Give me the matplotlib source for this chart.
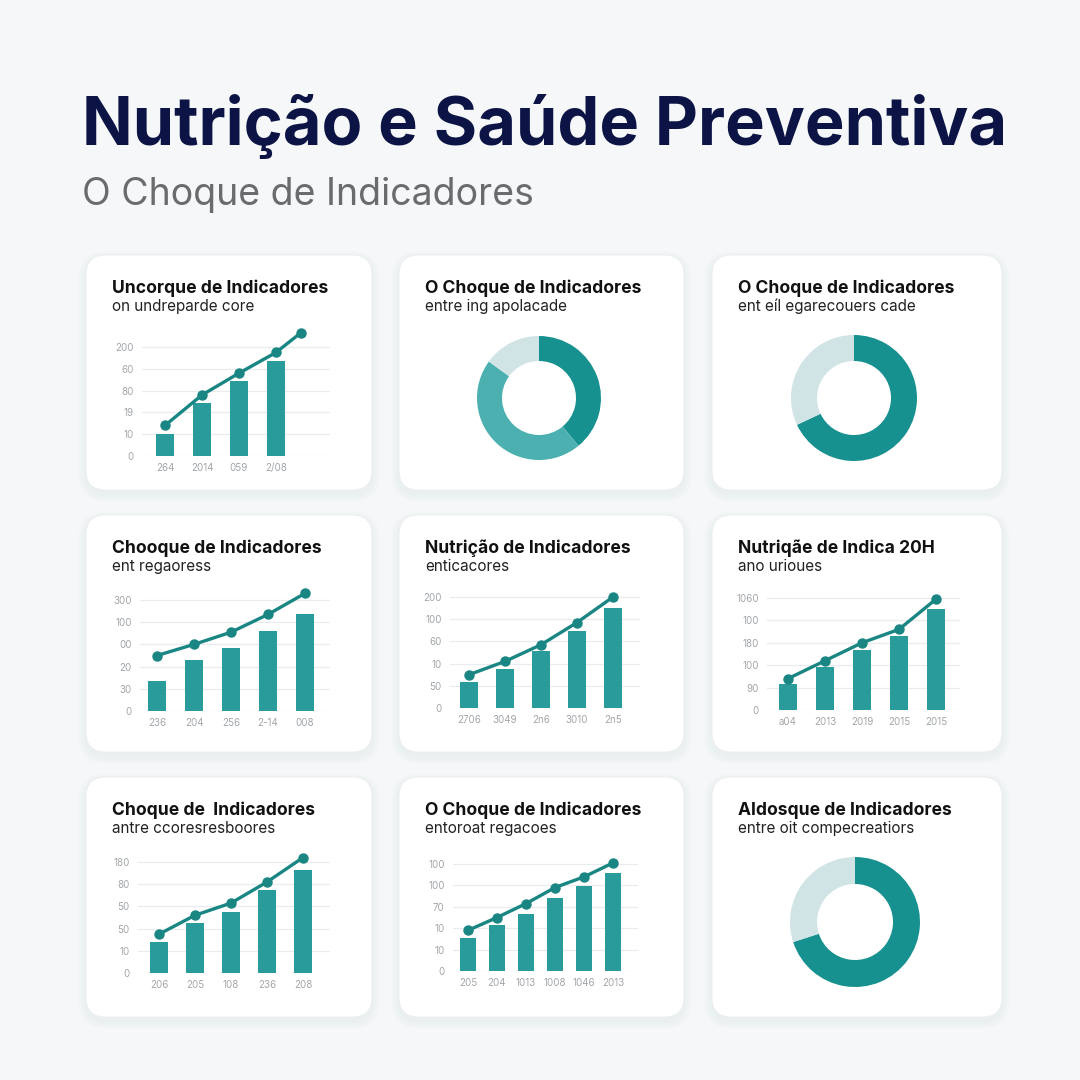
import matplotlib
matplotlib.use("Agg")
import matplotlib.pyplot as plt
from matplotlib.patches import FancyBboxPatch

# ---- data -------------------------------------------------------------
main_title = "Nutrição e Saúde Preventiva"
main_subtitle = "O Choque de Indicadores"

card_titles = [
    "Uncorque de Indicadores", "O Choque de Indicadores", "O Choque de Indicadores",
    "Chooque de Indicadores", "Nutrição de Indicadores", "Nutriqãe de Indica 20H",
    "Choque de  Indicadores", "O Choque de Indicadores", "Aldosque de Indicadores",
]
card_subtitles = [
    "on undreparde core", "entre ing apolacade", "ent eíl egarecouers cade",
    "ent regaoress", "enticacores", "ano urioues",
    "antre ccoresresboores", "entoroat regacoes", "entre oit compecreatiors",
]

# bar panels (value units: one gridline = 20)
bars_1 = [20, 49, 69, 87]
line_1 = [28, 56, 76, 95, 113]
line_x_1 = [0, 1, 2, 3, 3.67]
yticks_1 = ["0", "10", "19", "80", "60", "200"]
xticks_1 = ["264", "2014", "059", "2/08"]

bars_4 = [27, 46, 57, 72, 87]
line_4 = [50, 60, 71, 87, 106]
yticks_4 = ["0", "30", "20", "00", "100", "300"]
xticks_4 = ["236", "204", "256", "2-14", "008"]

bars_5 = [23, 35, 51, 69, 90]
line_5 = [30, 42, 57, 77, 100]
yticks_5 = ["0", "50", "10", "60", "100", "200"]
xticks_5 = ["2706", "3049", "2n6", "3010", "2n5"]

bars_6 = [23, 38, 54, 66, 90]
line_6 = [28, 44, 60, 72, 99]
yticks_6 = ["0", "90", "100", "180", "100", "1060"]
xticks_6 = ["a04", "2013", "2019", "2015", "2015"]

bars_7 = [28, 45, 55, 75, 93]
line_7 = [35, 52, 63, 82, 104]
yticks_7 = ["0", "10", "50", "50", "80", "180"]
xticks_7 = ["206", "205", "108", "236", "208"]

bars_8 = [31, 43, 53, 68, 79, 92]
line_8 = [38, 50, 63, 78, 88, 101]
yticks_8 = ["0", "10", "10", "70", "100", "100"]
xticks_8 = ["205", "204", "1013", "1008", "1046", "2013"]

# donut panels (percent)
donut_2 = [39, 46, 15]
donut_3 = [68, 32]
donut_9 = [70, 30]

# ---- style ------------------------------------------------------------
W = H = 1080
BG = "#f6f7f8"
NAVY = "#0c1445"
TEAL_BAR = "#289b9a"
TEAL_LINE = "#1a8684"
TEAL_DARK = "#17918f"
TEAL_MID = "#4cb0b1"
TEAL_LIGHT = "#d0e3e5"
GRID = "#e9ecee"
TICK = "#a2a6aa"
FONT = ["Inter", "DejaVu Sans"]

plt.rcParams["font.family"] = FONT

fig = plt.figure(figsize=(W / 100, H / 100), dpi=100, facecolor=BG)
bg = fig.add_axes([0, 0, 1, 1])
bg.set_xlim(0, W)
bg.set_ylim(H, 0)
bg.axis("off")


def rect(x0, y0, x1, y1):
    return [x0 / W, 1 - y1 / H, (x1 - x0) / W, (y1 - y0) / H]


bg.text(82, 145, main_title, fontsize=48, fontweight="bold", color=NAVY, va="baseline")
bg.text(82, 205, main_subtitle, fontsize=27, color="#6a6b6d", va="baseline")

col_x = [(86, 372), (399, 684), (712, 1002)]
row_y = [(255, 490), (515, 752), (777, 1017)]

for i in range(9):
    (x0, x1), (y0, y1) = col_x[i % 3], row_y[i // 3]
    for k in range(8, 0, -1):
        bg.add_patch(FancyBboxPatch((x0 - k, y0 - k + 4), x1 - x0 + 2 * k, y1 - y0 + 2 * k,
                                    boxstyle="round,pad=0,rounding_size=%d" % (20 + k),
                                    fc="#9aa4ad", ec="none", alpha=0.012))
    bg.add_patch(FancyBboxPatch((x0, y0), x1 - x0, y1 - y0,
                                boxstyle="round,pad=0,rounding_size=20",
                                fc="white", ec="#eceef0", lw=0.6))
    bg.text(x0 + 26, y0 + 38, card_titles[i], fontsize=12.6, fontweight="bold",
            color="#111111", va="baseline")
    bg.text(x0 + 26, y0 + 56, card_subtitles[i], fontsize=11, color="#222222", va="baseline")


def bar_panel(left, right, zero, step, c0, spacing, bars, line, yticks, xticks,
              line_x=None, width=0.48):
    ax = fig.add_axes(rect(left, zero - 6 * step, right, zero))
    ax.set_xlim((left - c0) / spacing, (right - c0) / spacing)
    ax.set_ylim(0, 120)
    xs = list(range(len(bars)))
    ax.bar(xs, bars, width=width, color=TEAL_BAR, zorder=2)
    lx = line_x if line_x is not None else list(range(len(line)))
    ax.plot(lx, line, color=TEAL_LINE, lw=2.4, marker="o", ms=6.5, zorder=3, clip_on=False)
    ax.set_yticks([0, 20, 40, 60, 80, 100], yticks)
    ax.set_xticks(xs, xticks)
    ax.grid(axis="y", color=GRID, lw=0.9, zorder=0)
    ax.tick_params(length=0, labelsize=7, labelcolor=TICK, pad=6)
    ax.tick_params(axis="x", pad=5)
    for s in ax.spines.values():
        s.set_visible(False)
    ax.patch.set_alpha(0)


def donut_panel(cx, cy, r, inner, values, colors):
    ax = fig.add_axes(rect(cx - r, cy - r, cx + r, cy + r))
    ax.pie(values, colors=colors, startangle=90, counterclock=False,
           wedgeprops=dict(width=1 - inner / r, edgecolor="none"))
    ax.set_xlim(-1, 1)
    ax.set_ylim(-1, 1)
    ax.set_aspect("equal")


bar_panel(142, 330, 456, 21.8, 165, 37, bars_1, line_1, yticks_1, xticks_1, line_x=line_x_1)
bar_panel(140, 330, 711, 22.2, 157, 37, bars_4, line_4, yticks_4, xticks_4)
bar_panel(450, 640, 708, 22.2, 469, 36, bars_5, line_5, yticks_5, xticks_5)
bar_panel(767, 960, 710, 22.4, 788, 37, bars_6, line_6, yticks_6, xticks_6)
bar_panel(138, 330, 973, 22.2, 159, 36, bars_7, line_7, yticks_7, xticks_7)
bar_panel(453, 638, 971, 21.4, 468, 29, bars_8, line_8, yticks_8, xticks_8, width=0.52)

donut_panel(539, 398, 62, 37, donut_2, [TEAL_DARK, TEAL_MID, TEAL_LIGHT])
donut_panel(854, 398, 63, 37, donut_3, [TEAL_DARK, TEAL_LIGHT])
donut_panel(855, 922, 65, 38, donut_9, [TEAL_DARK, TEAL_LIGHT])

fig.savefig("out.png", dpi=100, facecolor=BG)
